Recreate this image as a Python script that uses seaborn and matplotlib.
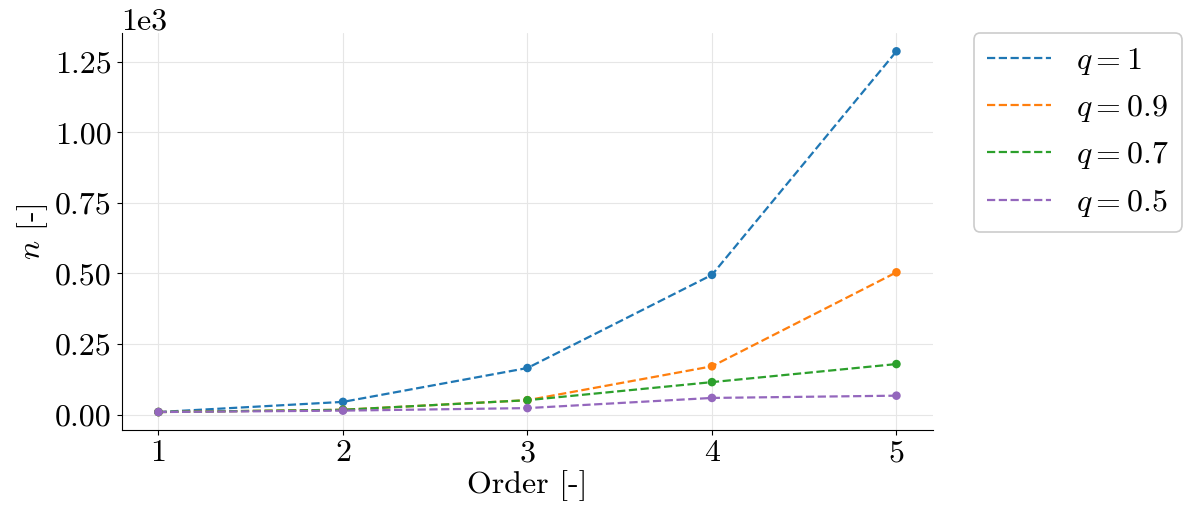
import pandas as pd
import matplotlib
matplotlib.use('Agg')
import matplotlib.pyplot as plt
from matplotlib.ticker import MultipleLocator
import seaborn as sns

# values
orders = [1, 2, 3, 4, 5]
q_labels = ['$q = 1$', '$q = 0.9$', '$q = 0.7$', '$q = 0.5$']
n_q1 = [9, 45, 165, 495, 1287]
n_q09 = [9, 17, 51, 171, 504]
n_q07 = [9, 17, 51, 115, 179]
n_q05 = [9, 14, 23, 59, 67]

df = pd.DataFrame({
    'Order': orders * 4,
    'n': n_q1 + n_q09 + n_q07 + n_q05,
    'q': [lab for lab in q_labels for _ in orders],
})

sns.set_style('ticks')
plt.rcParams['font.family'] = 'serif'
plt.rcParams['font.serif'] = ['cmr10', 'DejaVu Serif']
plt.rcParams['mathtext.fontset'] = 'cm'
plt.rcParams['axes.unicode_minus'] = False
plt.rcParams['axes.formatter.use_mathtext'] = False
for key in ['text.color', 'axes.labelcolor', 'xtick.color', 'ytick.color', 'axes.edgecolor']:
    plt.rcParams[key] = 'black'

palette = ['#1f77b4', '#ff7f0e', '#2ca02c', '#9467bd']
fs = 23

fig, ax = plt.subplots(figsize=(11.92, 5.12), dpi=100)
sns.lineplot(data=df, x='Order', y='n', hue='q', palette=palette,
             linestyle='--', linewidth=1.6, ax=ax)
sns.scatterplot(data=df, x='Order', y='n', hue='q', palette=palette,
                s=38, edgecolor='none', legend=False, ax=ax, zorder=3)

ax.set_xticks(orders)
ax.yaxis.set_major_locator(MultipleLocator(250))
ax.ticklabel_format(axis='y', style='sci', scilimits=(0, 0))
ax.yaxis.get_offset_text().set_fontsize(fs)
ax.tick_params(labelsize=fs)
ax.set_xlabel('Order [-]', fontsize=fs, labelpad=2)
ax.set_ylabel('$n$ [-]', fontsize=fs)
ax.grid(True, color='#e6e6e6', linewidth=0.8)
sns.despine(ax=ax)

leg = ax.legend(loc='upper left', bbox_to_anchor=(1.05, 1.0), fontsize=fs,
                framealpha=1, edgecolor='#cccccc', borderaxespad=0.0)
leg.get_frame().set_linewidth(1.2)

fig.subplots_adjust(left=0.102, right=0.783, top=0.935, bottom=0.16)
fig.savefig('out.png', dpi=100)
